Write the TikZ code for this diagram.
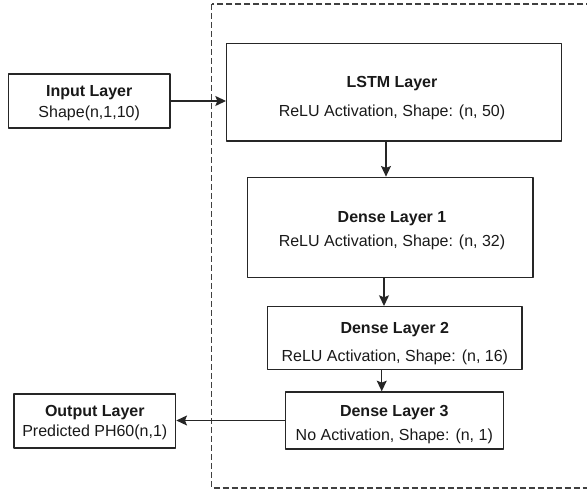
\documentclass[tikz,border=0pt]{standalone}
\usepackage{fontspec}
\setmainfont{Liberation Sans}
\usetikzlibrary{arrows.meta}

\begin{document}
\begin{tikzpicture}[line cap=round,line join=round,>={Stealth[length=8pt,width=7.5pt,inset=1.5pt]},x=0.75pt,y=-0.75pt,
  layer/.style={draw=black!85,line width=1pt,rectangle,inner sep=0pt},
  txt/.style={inner sep=0pt,align=center,text=black!90,font=\fontsize{12pt}{14pt}\selectfont},
  link/.style={->,line width=0.9pt,black!85}]
\useasboundingbox (0,0) rectangle (587,491);
\clip (0,0) rectangle (587,491);
\draw [black!75,line width=1pt,dash pattern=on 4.5pt off 2.25pt,line cap=butt] (211.7,4) rectangle (620,488);
\node [layer,minimum width=121.3pt,minimum height=40.5pt] (input) at (89.2,101) {};
\node [layer,minimum width=251.3pt,minimum height=73.3pt] (lstm) at (394.2,92.2) {};
\node [layer,minimum width=214.3pt,minimum height=75pt] (dense1) at (390.2,227.3) {};
\node [layer,minimum width=190.7pt,minimum height=47pt] (dense2) at (394.8,338) {};
\node [layer,minimum width=163.5pt,minimum height=42.75pt] (dense3) at (394.3,420.5) {};
\node [layer,minimum width=121.3pt,minimum height=40.5pt] (output) at (94.8,421) {};
\node [txt] (input-t) at (89.2,102.7) {\textbf{Input Layer}\\[1.75pt]Shape(n,1,10)};
\node [txt] (lstm-t) at (392,98.3) {\textbf{LSTM Layer}\\[7.75pt]ReLU Activation, Shape: (n, 50)};
\node [txt] (dense1-t) at (392,231) {\textbf{Dense Layer 1}\\[4pt]ReLU Activation, Shape: (n, 32)};
\node [txt] (dense2-t) at (394.8,343.5) {\textbf{Dense Layer 2}\\[6.5pt]ReLU Activation, Shape: (n, 16)};
\node [txt] (dense3-t) at (394.3,424.4) {\textbf{Dense Layer 3}\\[4pt]No Activation, Shape: (n, 1)};
\node [txt] (output-t) at (94.8,422.4) {\textbf{Output Layer}\\[1pt]Predicted PH60(n,1)};
\draw [link] (input.east) -- (input.east -| lstm.west);
\draw [link] ([xshift=-6.15pt]lstm.south) -- ([xshift=-6.15pt]lstm.south |- dense1.north);
\draw [link] ([xshift=-4.65pt]dense1.south) -- ([xshift=-4.65pt]dense1.south |- dense2.north);
\draw [link] ([xshift=-9.8pt]dense2.south) -- ([xshift=-9.8pt]dense2.south |- dense3.north);
\draw [link] (dense3.west) -- (dense3.west -| output.east);
\end{tikzpicture}
\end{document}
